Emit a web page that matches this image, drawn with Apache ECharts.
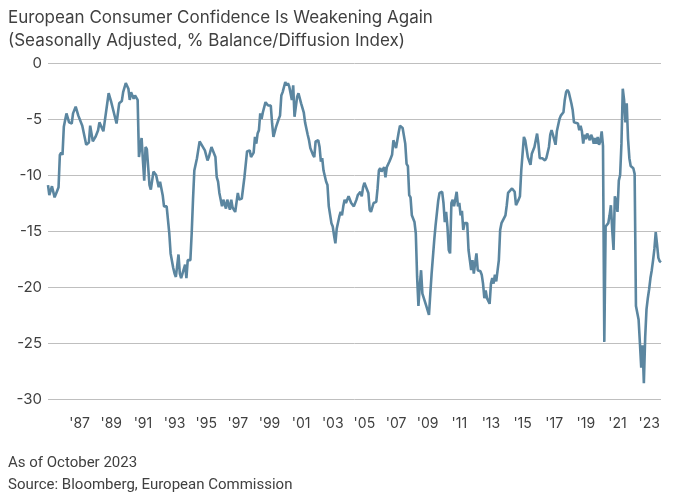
<!DOCTYPE html>
<html>
<head>
<meta charset="utf-8">
<script src="https://cdn.jsdelivr.net/npm/echarts@6/dist/echarts.min.js"></script>
<style>
  html, body { margin: 0; padding: 0; background: #fff; }
  #chart { width: 675px; height: 498px; }
</style>
</head>
<body>
<div id="chart"></div>
<script>
// months (YYYY-MM) and the index value at each
var obsDates = [
  '1985-01','1985-02','1985-04','1985-06','1985-08','1985-09','1985-10','1985-11','1985-12',
  '1986-01','1986-03','1986-05','1986-07','1986-08','1986-10','1986-12',
  '1987-01','1987-03','1987-06','1987-08','1987-09','1987-11',
  '1988-01','1988-03','1988-04','1988-07','1988-11',
  '1989-01','1989-05','1989-07','1989-09','1989-10','1989-12',
  '1990-02','1990-03','1990-04','1990-06','1990-07','1990-09','1990-10','1990-11','1990-12',
  '1991-01','1991-02','1991-03','1991-04','1991-05','1991-06','1991-07','1991-09','1991-11','1991-12',
  '1992-01','1992-02','1992-04','1992-05','1992-07','1992-09','1992-10','1992-12',
  '1993-01','1993-02','1993-04','1993-05','1993-06','1993-07','1993-09','1993-10','1993-11',
  '1994-01','1994-02','1994-03','1994-04','1994-06','1994-07','1994-08','1994-09','1994-12',
  '1995-02','1995-03','1995-05','1995-06','1995-08','1995-09','1995-10','1995-11',
  '1996-01','1996-02','1996-04','1996-05','1996-07','1996-08','1996-09','1996-11',
  '1997-01','1997-02','1997-04','1997-06','1997-08','1997-10','1997-11',
  '1998-01','1998-02','1998-03','1998-04','1998-05','1998-06','1998-07','1998-08','1998-10','1998-12',
  '1999-02','1999-03','1999-04','1999-06','1999-08','1999-09','1999-10','1999-11',
  '2000-01','2000-02','2000-03','2000-04','2000-06','2000-07','2000-08','2000-10','2000-11','2000-12',
  '2001-01','2001-03','2001-04','2001-06','2001-07','2001-08','2001-10','2001-11','2001-12',
  '2002-02','2002-03','2002-04','2002-05','2002-06','2002-07','2002-08','2002-09','2002-10','2002-12',
  '2003-01','2003-02','2003-03','2003-04','2003-06','2003-07','2003-08','2003-09','2003-10','2003-11',
  '2004-01','2004-02','2004-03','2004-05','2004-07','2004-08','2004-10','2004-11','2004-12',
  '2005-01','2005-02','2005-04','2005-05','2005-06','2005-07','2005-08','2005-09','2005-10','2005-11','2005-12',
  '2006-01','2006-02','2006-04','2006-05','2006-06','2006-08','2006-09','2006-10','2006-11',
  '2007-01','2007-02','2007-03','2007-04','2007-05','2007-06','2007-07','2007-08','2007-09','2007-10','2007-11','2007-12',
  '2008-01','2008-03','2008-04','2008-05','2008-06','2008-07','2008-08','2008-09','2008-10','2008-12',
  '2009-01','2009-02','2009-03','2009-04','2009-06','2009-07','2009-09','2009-10','2009-12',
  '2010-01','2010-02','2010-03','2010-04','2010-05','2010-06','2010-07','2010-08','2010-09','2010-11','2010-12',
  '2011-01','2011-02','2011-03','2011-04','2011-05','2011-07','2011-08','2011-09','2011-10','2011-11','2011-12',
  '2012-02','2012-03','2012-05','2012-06','2012-07','2012-08','2012-09','2012-10','2012-12',
  '2013-01','2013-02','2013-03','2013-04','2013-05','2013-07','2013-08','2013-09','2013-10','2013-12',
  '2014-01','2014-02','2014-03','2014-05','2014-06','2014-07','2014-08','2014-10','2014-11','2014-12',
  '2015-02','2015-03','2015-05','2015-07','2015-08','2015-10','2015-12',
  '2016-01','2016-02','2016-04','2016-05','2016-06','2016-07','2016-09','2016-10','2016-11','2016-12',
  '2017-02','2017-03','2017-04','2017-05','2017-06','2017-08','2017-09','2017-10','2017-11','2017-12',
  '2018-02','2018-03','2018-04','2018-05','2018-07','2018-08','2018-09','2018-10','2018-11','2018-12',
  '2019-01','2019-02','2019-03','2019-04','2019-05','2019-06','2019-07','2019-08','2019-09','2019-10','2019-11','2019-12',
  '2020-01','2020-02','2020-03','2020-04','2020-05','2020-06','2020-07','2020-08','2020-09','2020-10','2020-11','2020-12',
  '2021-01','2021-02','2021-03','2021-04','2021-05','2021-06','2021-07','2021-08','2021-09','2021-10','2021-11',
  '2022-01','2022-02','2022-03','2022-04','2022-05','2022-06','2022-07','2022-08','2022-09','2022-10','2022-11','2022-12',
  '2023-01','2023-02','2023-03','2023-04','2023-05','2023-06','2023-07','2023-08','2023-09','2023-10'
];
var obsValues = [
  -10.9,-11.8,-11.0,-12.0,-11.4,-11.1,-8.2,-8.0,-8.2,
  -5.7,-4.5,-5.3,-5.4,-4.5,-3.9,-4.7,
  -4.8,-5.6,-7.3,-7.1,-5.6,-7.0,
  -6.6,-6.0,-5.3,-6.1,-2.7,
  -3.5,-5.4,-3.6,-3.4,-2.6,-1.8,
  -2.3,-3.3,-2.6,-3.2,-2.9,-3.3,-8.4,-7.5,-6.7,
  -8.7,-10.5,-7.5,-7.7,-7.7,-10.9,-11.3,-9.7,-10.0,-10.0,
  -11.1,-10.6,-11.8,-12.8,-12.8,-15.2,-17.0,-18.3,
  -18.8,-19.1,-17.1,-18.8,-19.2,-18.8,-18.0,-19.2,-17.6,
  -17.6,-15.2,-12.2,-9.6,-8.5,-8.5,-7.0,-7.2,-7.8,
  -8.7,-8.4,-7.5,-7.6,-8.4,-10.2,-10.6,-11.6,
  -12.8,-12.2,-13.0,-12.2,-13.1,-12.2,-12.9,-13.3,
  -11.6,-12.2,-12.1,-10.2,-7.9,-7.8,-8.4,
  -8.0,-6.6,-7.2,-6.3,-6.0,-4.5,-5.0,-4.4,-3.5,-3.8,
  -3.8,-5.4,-6.6,-5.7,-5.0,-4.7,-2.9,-2.6,
  -1.7,-2.0,-1.8,-2.1,-3.3,-2.0,-4.8,-3.0,-2.7,-2.6,
  -3.6,-4.4,-5.3,-6.4,-6.9,-7.6,-8.2,-8.4,-7.0,
  -6.9,-7.5,-8.8,-8.5,-9.6,-9.6,-10.6,-10.9,-12.8,-14.3,
  -14.6,-15.4,-16.1,-14.8,-13.7,-13.3,-13.6,-12.8,-12.2,-12.5,
  -11.9,-11.8,-12.5,-12.8,-12.2,-11.8,-11.5,-11.9,-11.1,
  -10.7,-10.8,-11.6,-13.1,-13.3,-13.4,-12.5,-12.6,-12.4,-11.2,-9.6,
  -9.4,-9.7,-9.3,-10.2,-9.3,-8.8,-8.5,-8.2,-6.9,
  -7.6,-6.9,-6.2,-5.6,-5.5,-5.8,-5.8,-7.2,-9.0,-9.2,-11.8,-12.0,
  -13.6,-14.2,-15.2,-19.1,-21.7,-19.9,-18.5,-20.6,-20.6,-21.7,
  -21.6,-22.5,-20.6,-18.8,-15.8,-14.5,-12.3,-11.6,-11.5,
  -12.5,-14.2,-13.3,-14.6,-16.7,-17.0,-12.5,-12.2,-12.8,-11.5,-12.8,
  -12.5,-13.6,-13.2,-14.9,-14.3,-14.3,-16.7,-17.6,-18.5,-17.6,-18.8,
  -17.0,-18.5,-18.6,-18.9,-19.7,-21.0,-20.3,-21.0,-21.5,
  -19.7,-19.2,-19.7,-18.9,-19.5,-17.6,-14.9,-14.3,-14.3,-13.6,
  -12.7,-11.6,-11.5,-11.2,-11.1,-11.5,-12.7,-12.2,-11.9,-9.6,
  -6.6,-6.9,-8.4,-9.1,-8.1,-7.5,-6.3,
  -7.2,-8.5,-8.5,-8.4,-8.7,-8.5,-7.5,-6.4,-6.0,-6.4,
  -7.3,-6.1,-6.0,-5.0,-4.7,-4.4,-3.3,-2.6,-2.4,-2.6,
  -3.6,-4.2,-5.3,-5.3,-5.4,-6.0,-5.6,-6.1,-7.2,-6.4,
  -6.8,-6.3,-6.4,-6.9,-6.4,-6.7,-7.2,-6.7,-7.2,-6.6,-7.3,-7.0,
  -6.1,-7.4,-24.9,-14.6,-14.5,-14.3,-13.6,-12.7,-14.9,-16.7,-11.9,-12.3,
  -13.3,-10.5,-10.0,-7.2,-2.3,-3.3,-5.3,-3.6,-6.8,-8.5,-9.2,
  -9.4,-9.9,-21.7,-21.6,-22.9,-25.0,-27.2,-25.2,-28.6,-24.5,-22.0,-21.0,
  -20.2,-19.2,-18.5,-17.6,-16.6,-15.1,-16.2,-17.4,-17.7,-17.8
];
var yTicks = [0, -5, -10, -15, -20, -25, -30];

// every month Jan 1985 .. Oct 2023 as a category
var months = [];
for (var y = 1985; y <= 2023; y++) {
    for (var m = 1; m <= 12; m++) {
        if (y === 2023 && m > 10) break;
        months.push(y + '-' + (m < 10 ? '0' + m : '' + m));
    }
}
var lookup = {};
obsDates.forEach(function (d, i) { lookup[d] = obsValues[i]; });
var seriesData = months.map(function (d) {
    return lookup.hasOwnProperty(d) ? lookup[d] : null;
});

var chart = echarts.init(document.getElementById('chart'), null, {renderer: 'canvas'});

var option = {
    backgroundColor: '#ffffff',
    animation: false,
    title: [
        {
            text: 'European Consumer Confidence Is Weakening Again',
            left: 3, top: 4,
            textStyle: {fontFamily: 'Inter', fontSize: 17, fontWeight: 'normal', color: '#404040'}
        },
        {
            text: '(Seasonally Adjusted, % Balance/Diffusion Index)',
            left: 3, top: 27,
            textStyle: {fontFamily: 'Inter', fontSize: 17, fontWeight: 'normal', color: '#404040'}
        },
        {
            text: 'As of October 2023',
            left: 3, top: 451,
            textStyle: {fontFamily: 'Roboto', fontSize: 15, fontWeight: 'normal', color: '#404040'}
        },
        {
            text: 'Source: Bloomberg, European Commission',
            left: 3, top: 473,
            textStyle: {fontFamily: 'Roboto', fontSize: 15, fontWeight: 'normal', color: '#404040'}
        }
    ],
    grid: {left: 48, right: 14, top: 63, bottom: 99, containLabel: false},
    xAxis: {
        type: 'category',
        data: months,
        boundaryGap: false,
        axisLine: {show: false},
        axisTick: {show: false},
        splitLine: {show: false},
        axisLabel: {
            interval: function (idx, val) {
                var yr = +val.slice(0, 4);
                return val.slice(5) === '01' && yr >= 1987 && yr % 2 === 1;
            },
            formatter: function (val) { return "'" + val.slice(2, 4); },
            margin: 18,
            fontFamily: 'Inter',
            fontSize: 14,
            color: '#404040'
        }
    },
    yAxis: {
        type: 'value',
        min: yTicks[yTicks.length - 1],
        max: yTicks[0],
        interval: 5,
        axisLine: {show: false},
        axisTick: {show: false},
        splitLine: {lineStyle: {color: '#bfbfbf', width: 1}},
        axisLabel: {
            margin: 6,
            fontFamily: 'Inter',
            fontSize: 15,
            color: '#404040'
        }
    },
    series: [{
        type: 'line',
        data: seriesData,
        connectNulls: true,
        showSymbol: false,
        symbol: 'none',
        lineStyle: {color: '#5b86a0', width: 2.6},
        z: 3
    }]
};

chart.setOption(option);
</script>
</body>
</html>
